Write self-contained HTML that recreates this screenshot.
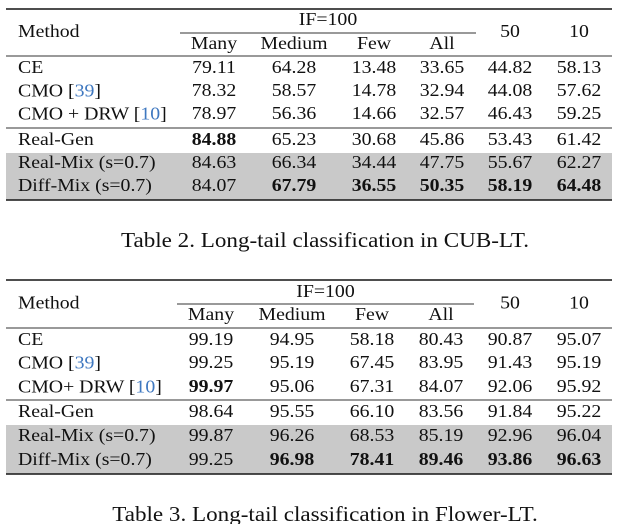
<!DOCTYPE html>
<html><head><meta charset="utf-8"><style>
html,body{margin:0;padding:0;background:#fff;width:617px;height:524px;overflow:hidden}
svg{display:block}
text{font-family:"Liberation Serif",serif;fill:#111}
</style></head><body>
<svg id="s" width="617" height="524"></svg>
<script>
const methods1=["CE","CMO [39]","CMO + DRW [10]","Real-Gen","Real-Mix (s=0.7)","Diff-Mix (s=0.7)"];
const vals1=[["79.11","64.28","13.48","33.65","44.82","58.13"],["78.32","58.57","14.78","32.94","44.08","57.62"],["78.97","56.36","14.66","32.57","46.43","59.25"],["84.88","65.23","30.68","45.86","53.43","61.42"],["84.63","66.34","34.44","47.75","55.67","62.27"],["84.07","67.79","36.55","50.35","58.19","64.48"]];
const bold1=[[],[],[],[0],[],[1,2,3,4,5]];
const methods2=["CE","CMO [39]","CMO+ DRW [10]","Real-Gen","Real-Mix (s=0.7)","Diff-Mix (s=0.7)"];
const vals2=[["99.19","94.95","58.18","80.43","90.87","95.07"],["99.25","95.19","67.45","83.95","91.43","95.19"],["99.97","95.06","67.31","84.07","92.06","95.92"],["98.64","95.55","66.10","83.56","91.84","95.22"],["99.87","96.26","68.53","85.19","92.96","96.04"],["99.25","96.98","78.41","89.46","93.86","96.63"]];
const bold2=[[],[],[0],[],[],[1,2,3,4,5]];
const subHeads=["Many","Medium","Few","All"];
const NS="http://www.w3.org/2000/svg";
const svg=document.getElementById('s');
const SX=1.1;
const FS=18;
function el(tag,attrs,parent){const e=document.createElementNS(NS,tag);for(const k in attrs)e.setAttribute(k,attrs[k]);(parent||svg).appendChild(e);return e;}
function txt(x,y,s,anchor,bold,size,parent,sx){const t=el('text',{x:0,y:0,transform:`translate(${x},${y}) scale(${sx||SX},1)`,'text-anchor':anchor,'font-size':size||FS,'dominant-baseline':'central'},parent);if(bold)t.setAttribute('font-weight','bold');
 const m=s.match(/^(.*\[)(\d+)(\].*)$/);
 if(m){const a=document.createElementNS(NS,'tspan');a.textContent=m[1];t.appendChild(a);const b=document.createElementNS(NS,'tspan');b.textContent=m[2];b.setAttribute('fill','#3f78c0');t.appendChild(b);const c=document.createElementNS(NS,'tspan');c.textContent=m[3];t.appendChild(c);}
 else t.textContent=s;return t;}
function table(name,cfg,methods,vals,bold,caption){
 const g=el('g',{});
 
 
 const bg=el('rect',{x:6,y:cfg.grayTop,width:606,height:cfg.grayBot-cfg.grayTop,fill:'#c9c9c9'},g);
 
 
 el('rect',{x:6,y:cfg.top-0.8,width:606,height:1.6,fill:'#222'},g);
 el('rect',{x:6,y:cfg.bot-0.8,width:606,height:1.6,fill:'#222'},g);
 el('rect',{x:6,y:cfg.mid1-0.5,width:606,height:1,fill:'#333'},g);
 el('rect',{x:6,y:cfg.mid2-0.5,width:606,height:1,fill:'#333'},g);
 el('rect',{x:cfg.cmX1,y:cfg.cm-0.5,width:cfg.cmX2-cfg.cmX1,height:1,fill:'#333'},g);
 const h=txt(18,(cfg.hy1+cfg.hy2)/2,"Method",'start',false,FS,g);
 
 
 txt((cfg.cmX1+cfg.cmX2)/2,cfg.hy1,"IF=100",'middle',false,FS,g);
 txt(cfg.cols[4],(cfg.hy1+cfg.hy2)/2,"50",'middle',false,FS,g);
 txt(cfg.cols[5],(cfg.hy1+cfg.hy2)/2,"10",'middle',false,FS,g);
 subHeads.forEach((s,i)=>txt(cfg.cols[i],cfg.hy2,s,'middle',false,FS,g));
 methods.forEach((m,r)=>{
  const y=cfg.rows[r];
  const rt=txt(18,y,m,'start',false,FS,g);
  
  
  vals[r].forEach((v,c)=>{const ct=txt(cfg.cols[c],y,v,'middle',bold[r].includes(c),FS,g);
   
   });
 });
 const cp=txt(325,cfg.cap,caption,'middle',false,21,g,1.1);
 
 
}
table('table-cub-lt',{top:9,bot:200,mid1:56,mid2:128,cm:33,cmX1:180,cmX2:476,hy1:20,hy2:44,grayTop:153,grayBot:200,
 cols:[214,294,374,442,510,579],rows:[68,91,114,140,163,186],cap:240},methods1,vals1,bold1,"Table 2. Long-tail classification in CUB-LT.");
table('table-flower-lt',{top:280,bot:474,mid1:328,mid2:400,cm:304,cmX1:177,cmX2:474,hy1:292,hy2:315,grayTop:425,grayBot:474,
 cols:[211,292,372,441,510,579],rows:[340,363,387,412,436,460],cap:514},methods2,vals2,bold2,"Table 3. Long-tail classification in Flower-LT.");
</script>
</body></html>
